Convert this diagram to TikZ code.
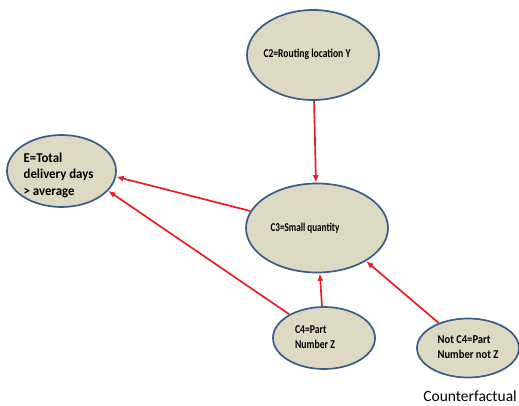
\documentclass[tikz,border=0pt]{standalone}
\usepackage{fontspec}
\setmainfont{Carlito}
\usetikzlibrary{arrows.meta}
\usetikzlibrary{shapes.geometric}

\definecolor{nodefill}{RGB}{221,217,195}
\definecolor{nodeline}{RGB}{56,93,138}
\definecolor{arrowred}{RGB}{235,28,36}

\begin{document}
\begin{tikzpicture}[x=1pt, y=1pt,
    cause/.style={ellipse, draw=nodeline, fill=nodefill, line width=1.7pt, inner sep=0pt},
    causetext/.style={align=left, inner sep=0pt, xscale=#1, font=\fontsize{12}{15.5}\selectfont\bfseries},
    link/.style={draw=arrowred, line width=1.7pt, -{Latex[length=7.5pt,width=6pt]}}]
    \useasboundingbox (0,0) rectangle (519,405);
    % ellipses
    \node[cause, minimum width=132pt, minimum height=90pt] (c2) at (313,350) {};
    \node[cause, minimum width=109pt, minimum height=72pt] (e) at (61.5,234) {};
    \node[cause, minimum width=142pt, minimum height=89pt] (c3) at (317,177) {};
    \node[cause, minimum width=102pt, minimum height=62pt] (c4) at (324,67) {};
    \node[cause, minimum width=102pt, minimum height=59pt] (nc4) at (468,57) {};
    % texts
    \node[causetext=0.8] (c2t) at ([xshift=-6pt, yshift=1pt]c2.center) {C2=Routing location Y};
    \node[causetext=0.95, font=\fontsize{13.5}{16.5}\selectfont\bfseries] (et) at ([xshift=-3pt, yshift=-4pt]e.center) {E=Total\\delivery days\\> average};
    \node[causetext=0.76] (c3t) at ([xshift=-12pt]c3.center) {C3=Small quantity};
    \node[causetext=0.81] (c4t) at ([xshift=-9pt, yshift=1pt]c4.center) {C4=Part\\Number Z};
    \node[causetext=0.88, font=\fontsize{12}{14.5}\selectfont\bfseries] (nc4t) at ([yshift=1pt]nc4.center) {Not C4=Part\\Number not Z};
    \node[anchor=base east, inner sep=0pt, font=\fontsize{15.5}{18}\selectfont] (cf) at (517,4) {Counterfactual};
    % arrows
    \draw[link] (c2) -- (c3);
    \draw[link] (c3) -- (e.-6);
    \draw[link] (c4) -- (e.-23);
    \draw[link] (c4) -- (c3);
    \draw[link] (nc4) -- (c3.-34);
\end{tikzpicture}
\end{document}
